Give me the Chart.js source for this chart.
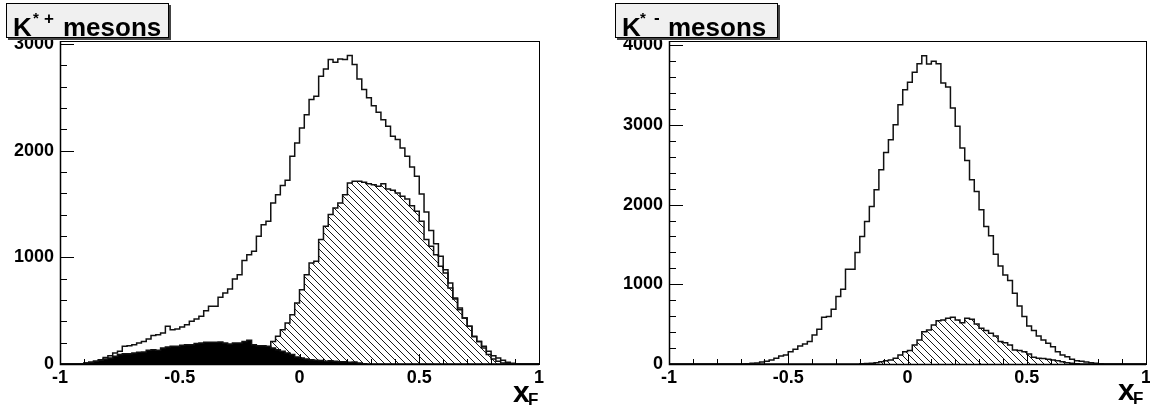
<!DOCTYPE html>
<html>
<head>
<meta charset="utf-8">
<script src="https://cdn.jsdelivr.net/npm/chart.js@4.4.1/dist/chart.umd.min.js"></script>
<style>
html, body { margin: 0; padding: 0; background: #fff; overflow: hidden; }
body { width: 1150px; height: 406px; position: relative; font-family: "Liberation Sans", Arial, sans-serif; font-weight: bold; color: #000; }
.pane { position: absolute; top: 0; height: 406px; }
.box { position: absolute; top: 3px; width: 161px; height: 33px; background: #f0f0f0; border: 1px solid #000; box-shadow: 2px 2px 0 #444; }
.t { position: absolute; white-space: nowrap; line-height: 1; }
</style>
</head>
<body>
<div class="pane" style="left:0;width:575px"><canvas id="chartPlus"></canvas></div>
<div class="pane" style="left:575px;width:600px"><canvas id="chartMinus"></canvas></div>

<div class="box" style="left:6px"></div>
<span class="t" style="left:13px;top:14px;font-size:26px">K</span>
<span class="t" style="left:33px;top:10px;font-size:15px">*</span>
<span class="t" style="left:44px;top:10px;font-size:17px">+</span>
<span class="t" style="left:63px;top:14px;font-size:26px">mesons</span>

<div class="box" style="left:615px"></div>
<span class="t" style="left:622px;top:14px;font-size:26px">K</span>
<span class="t" style="left:640px;top:10px;font-size:15px">*</span>
<span class="t" style="left:654px;top:9px;font-size:17px">-</span>
<span class="t" style="left:668px;top:14px;font-size:26px">mesons</span>

<span class="t" style="left:513px;top:377px;font-size:30px">x</span>
<span class="t" style="left:528px;top:391px;font-size:17px">F</span>
<span class="t" style="left:1118px;top:375px;font-size:30px">x</span>
<span class="t" style="left:1133px;top:390px;font-size:17px">F</span>

<script>
// 100 bins from -1 to 1
const X_MIN = -1, X_MAX = 1, BIN_W = 0.02;

const kPlusAll = [
  0, 0, 0, 0, 3, 9, 16, 25, 40, 62,
  78, 103, 119, 166, 172, 181, 197, 212, 234, 266,
  275, 290, 353, 322, 328, 347, 369, 400, 422, 447,
  500, 541, 541, 625, 666, 703, 797, 837, 969, 1025,
  1056, 1197, 1306, 1337, 1509, 1587, 1672, 1722, 1947, 2072,
  2212, 2337, 2478, 2509, 2697, 2765, 2853, 2828, 2859, 2853,
  2890, 2806, 2672, 2572, 2494, 2420, 2360, 2290, 2228, 2134,
  2103, 2025, 1947, 1847, 1760, 1594, 1425, 1250, 1128, 1009,
  884, 759, 619, 509, 431, 353, 259, 212, 166, 119,
  78, 56, 34, 16, 6, 2, 0, 0, 0, 0
];
const kPlusHatched = [
  0, 0, 0, 0, 0, 0, 0, 0, 0, 0,
  0, 0, 0, 0, 0, 0, 0, 0, 0, 0,
  0, 0, 0, 0, 0, 0, 0, 0, 0, 0,
  0, 0, 0, 0, 0, 0, 0, 0, 10, 25,
  45, 70, 100, 150, 212, 259, 322, 384, 462, 572,
  697, 837, 947, 962, 1166, 1290, 1400, 1462, 1509, 1587,
  1697, 1712, 1712, 1703, 1690, 1681, 1665, 1690, 1640, 1628,
  1603, 1572, 1547, 1484, 1431, 1337, 1166, 1103, 1025, 916,
  853, 712, 609, 525, 431, 353, 255, 212, 150, 88,
  47, 25, 10, 4, 0, 0, 0, 0, 0, 0
];
const kPlusSolid = [
  0, 0, 0, 0, 3, 9, 16, 25, 34, 47,
  56, 72, 88, 97, 97, 103, 109, 112, 128, 134,
  128, 150, 159, 166, 166, 175, 181, 181, 191, 197,
  203, 203, 205, 206, 197, 188, 197, 197, 212, 222,
  181, 172, 172, 166, 150, 134, 119, 103, 88, 66,
  56, 47, 40, 34, 32, 25, 30, 25, 22, 22,
  16, 19, 9, 3, 0, 0, 0, 0, 0, 0,
  0, 0, 0, 0, 0, 0, 0, 0, 0, 0,
  0, 0, 0, 0, 0, 0, 0, 0, 0, 0,
  0, 0, 0, 0, 0, 0, 0, 0, 0, 0
];

const kMinusAll = [
  0, 0, 0, 0, 0, 0, 0, 0, 0, 0,
  0, 0, 0, 0, 0, 0, 3, 8, 12, 25,
  35, 50, 71, 100, 113, 155, 184, 226, 251, 281,
  364, 436, 586, 595, 687, 846, 938, 1189, 1189, 1399,
  1600, 1788, 1976, 2186, 2437, 2655, 2814, 3003, 3254, 3442,
  3534, 3660, 3769, 3869, 3764, 3798, 3769, 3526, 3476, 3212,
  2982, 2709, 2554, 2312, 2165, 1935, 1725, 1608, 1378, 1231,
  1118, 1047, 888, 729, 595, 477, 419, 352, 302, 260,
  218, 155, 113, 92, 59, 42, 34, 25, 17, 8,
  4, 0, 0, 0, 0, 0, 0, 0, 0, 0
];
const kMinusHatched = [
  0, 0, 0, 0, 0, 0, 0, 0, 0, 0,
  0, 0, 0, 0, 0, 0, 0, 0, 0, 0,
  0, 0, 0, 0, 0, 0, 0, 0, 0, 0,
  0, 0, 0, 0, 0, 0, 0, 0, 0, 0,
  3, 5, 8, 15, 29, 42, 50, 71, 113, 155,
  168, 239, 302, 406, 427, 490, 544, 553, 574, 586,
  553, 519, 574, 561, 502, 448, 419, 385, 352, 281,
  268, 239, 176, 168, 155, 126, 84, 71, 68, 59,
  50, 42, 29, 17, 8, 3, 0, 0, 0, 0,
  0, 0, 0, 0, 0, 0, 0, 0, 0, 0
];

// tick positions; labelled ones are listed separately
const xTicks = [-1, -0.9, -0.8, -0.7, -0.6, -0.5, -0.4, -0.3, -0.2, -0.1, 0,
                0.1, 0.2, 0.3, 0.4, 0.5, 0.6, 0.7, 0.8, 0.9, 1];
const xLabels = [-1, -0.5, 0, 0.5, 1];
const kPlusYTicks = [0, 200, 400, 600, 800, 1000, 1200, 1400, 1600, 1800, 2000,
                     2200, 2400, 2600, 2800, 3000];
const kMinusYTicks = [0, 200, 400, 600, 800, 1000, 1200, 1400, 1600, 1800, 2000,
                      2200, 2400, 2600, 2800, 3000, 3200, 3400, 3600, 3800, 4000];
const yLabels = [0, 1000, 2000, 3000, 4000];

function toSteps(vals) {
  const pts = vals.map((v, i) => ({ x: X_MIN + i * BIN_W, y: v }));
  pts.push({ x: X_MAX, y: vals[vals.length - 1] });
  return pts;
}

function hatch() {
  const c = document.createElement('canvas');
  c.width = 7; c.height = 7;
  const g = c.getContext('2d');
  g.strokeStyle = '#000';
  g.lineWidth = 0.9;
  g.beginPath();
  g.moveTo(-1, -1); g.lineTo(8, 8);
  g.moveTo(-1, 6); g.lineTo(1, 8);
  g.moveTo(6, -1); g.lineTo(8, 1);
  g.stroke();
  return g.createPattern(c, 'repeat');
}

// ROOT style frame with inward tick marks
const rootAxes = {
  id: 'rootAxes',
  afterDatasetsDraw(chart) {
    const { ctx, chartArea: a, scales: { x, y } } = chart;
    ctx.save();
    ctx.strokeStyle = '#000';
    ctx.lineWidth = 1;
    ctx.strokeRect(a.left + 0.5, a.top + 0.5, a.right - a.left, a.bottom - a.top);
    ctx.beginPath();
    y.ticks.forEach(t => {
      const py = Math.round(y.getPixelForValue(t.value)) + 0.5;
      const len = t.label ? 14 : 7;
      ctx.moveTo(a.left, py); ctx.lineTo(a.left + len, py);
    });
    x.ticks.forEach(t => {
      const px = Math.round(x.getPixelForValue(t.value)) + 0.5;
      const len = t.label ? 10 : 5;
      ctx.moveTo(px, a.bottom); ctx.lineTo(px, a.bottom - len);
    });
    ctx.stroke();
    ctx.lineWidth = 1.5;
    ctx.beginPath();
    ctx.moveTo(a.left + 0.5, a.top); ctx.lineTo(a.left + 0.5, a.bottom + 0.5); ctx.lineTo(a.right, a.bottom + 0.5);
    ctx.stroke();
    ctx.restore();
  }
};

function labelIf(list) {
  return v => (list.some(l => Math.abs(l - v) < 1e-6) ? String(v) : '');
}

function stepLine(vals, fill, order) {
  return {
    data: toSteps(vals),
    stepped: true,
    borderColor: '#111',
    borderWidth: 1.5,
    pointRadius: 0,
    fill: fill ? 'origin' : false,
    backgroundColor: fill || 'transparent',
    order,
  };
}

function makeChart(id, datasets, yTicks, yMax, axisWidth, padRight) {
  return new Chart(document.getElementById(id), {
    type: 'line',
    data: { datasets },
    plugins: [rootAxes],
    options: {
      responsive: true,
      maintainAspectRatio: false,
      animation: false,
      events: [],
      layout: { padding: { left: 0, right: padRight, top: 41, bottom: 0 } },
      plugins: { legend: { display: false }, tooltip: { enabled: false } },
      scales: {
        x: {
          type: 'linear', min: X_MIN, max: X_MAX,
          grid: { display: false, drawTicks: false },
          border: { display: false },
          ticks: { autoSkip: false, maxRotation: 0, padding: 3, callback: labelIf(xLabels), color: '#000' },
          afterBuildTicks: s => { s.ticks = xTicks.map(v => ({ value: v })); },
          afterFit: s => { s.height = 42; },
        },
        y: {
          min: 0, max: yMax,
          grid: { display: false, drawTicks: false },
          border: { display: false },
          ticks: { autoSkip: false, padding: 6, color: '#000', callback: labelIf(yLabels) },
          afterBuildTicks: s => { s.ticks = yTicks.map(v => ({ value: v })); },
          afterFit: s => { s.width = axisWidth; },
        },
      },
    },
  });
}

Chart.defaults.font = { family: '"Liberation Sans", Arial, sans-serif', size: 18, weight: 'bold' };
Chart.defaults.color = '#000';

const pattern = hatch();

makeChart('chartPlus', [
  stepLine(kPlusAll, null, 3),
  stepLine(kPlusHatched, pattern, 2),
  stepLine(kPlusSolid, '#000', 1),
], kPlusYTicks, 3027, 60, 36);

makeChart('chartMinus', [
  stepLine(kMinusAll, null, 2),
  stepLine(kMinusHatched, pattern, 1),
], kMinusYTicks, 4053, 94, 29);
</script>
</body>
</html>
